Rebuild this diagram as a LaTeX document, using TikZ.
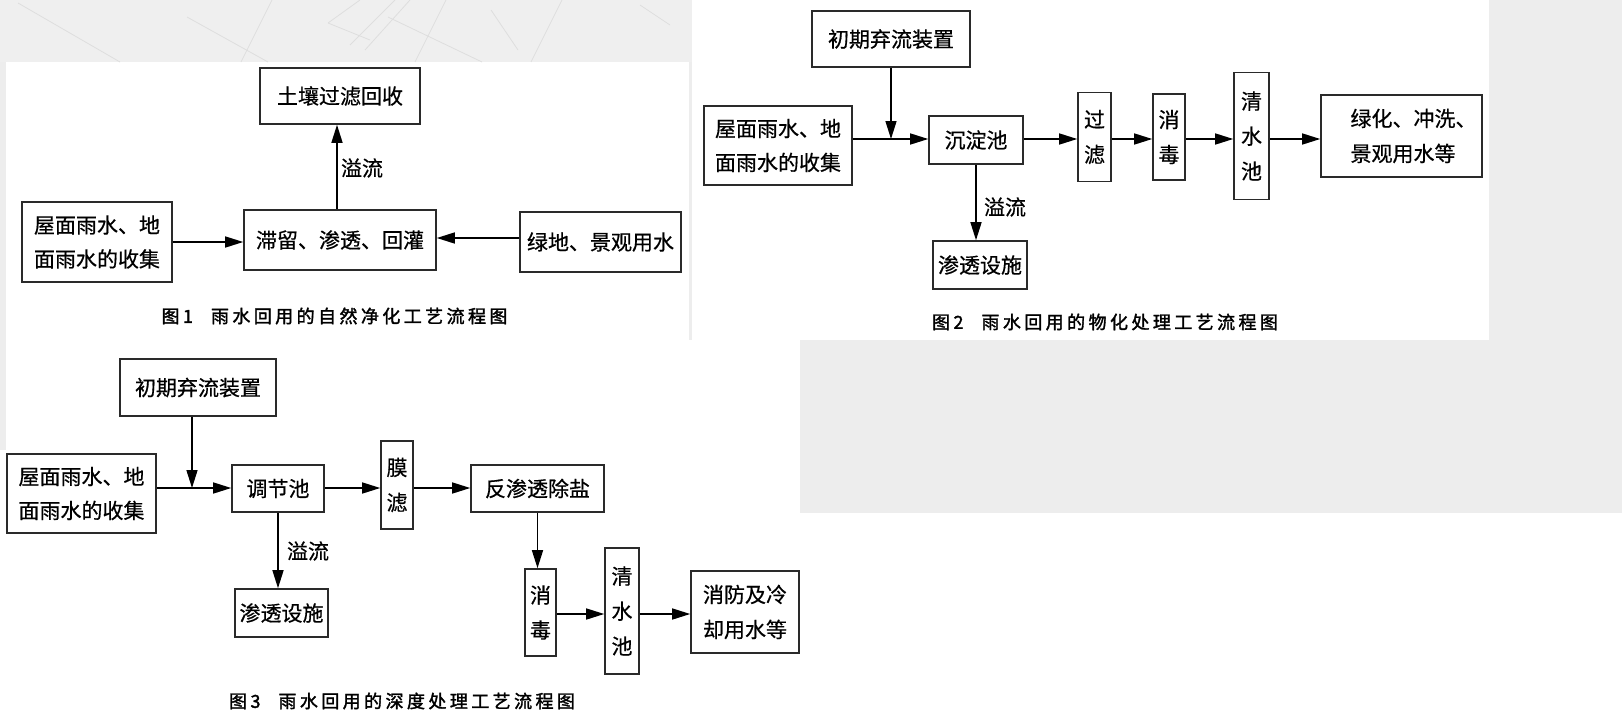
\documentclass[tikz,border=0pt]{standalone}
\usepackage{fontspec}
\newfontfamily\cjk{Noto Sans CJK SC}[FakeBold=0.6]
\newfontfamily\cjkcap{Noto Sans CJK SC}[FakeBold=1.8,LetterSpace=19]
\usetikzlibrary{arrows.meta,calc}
\definecolor{bg}{HTML}{EDEDED}
\definecolor{bgtop}{HTML}{EFEFEF}
\definecolor{faint}{HTML}{DEDEDE}
\definecolor{boxc}{HTML}{2A2A2A}
\tikzset{
  box/.style={draw=boxc, line width=1.6pt, inner sep=0pt, align=center,
    font=\cjk\fontsize{21}{35}\selectfont, text=black},
  arr/.style={draw=black, line width=1.5pt, -{Triangle[length=18pt,width=11pt]}},
  lab/.style={font=\cjk\fontsize{21}{25}\selectfont, inner sep=0pt, text=black},
  capstyle/.style={font=\cjkcap\fontsize{18}{22}\selectfont, inner sep=0pt, text=black},
  bgline/.style={draw=faint, line width=0.8pt},
}
\begin{document}
\begin{tikzpicture}[x=1pt,y=-1pt]
\useasboundingbox (0,0) rectangle (1622,723);
% backgrounds
\fill[white] (0,0) rectangle (1622,723);
\fill[bgtop] (0,0) rectangle (692,62);
\fill[bg] (0,62) rectangle (6,450);
\fill[bg] (689,62) rectangle (692,340);
\fill[bg] (1489,0) rectangle (1622,340);
\fill[bg] (800,340) rectangle (1622,513);
% faint drawing in the top band
\begin{scope}
\clip (0,0) rectangle (692,62);
\draw[bgline] (18,3) -- (120,62);
\draw[bgline] (187,17) -- (268,62);
\draw[bgline] (241,62) -- (272,0);
\draw[bgline] (328,23) -- (360,0);
\draw[bgline] (328,23) -- (370,40);
\draw[bgline] (350,45) -- (395,0);
\draw[bgline] (365,50) -- (410,0);
\draw[bgline] (388,17) -- (482,62);
\draw[bgline] (446,0) -- (415,62);
\draw[bgline] (491,10) -- (518,50);
\draw[bgline] (562,0) -- (531,62);
\draw[bgline] (640,5) -- (670,25);
\draw[bgline] (431,-5) arc[start angle=180,end angle=360,radius=38];
\draw[bgline] (421,-5) arc[start angle=180,end angle=360,radius=48];
\end{scope}

% ---------------- Figure 1 ----------------
\node[box, minimum width=160, minimum height=56] (f1top) at (340,96) {土壤过滤回收};
\node[box, minimum width=192, minimum height=60] (f1mid) at (340,240) {滞留、渗透、回灌};
\node[box, minimum width=150, minimum height=80, font=\cjk\fontsize{21}{34}\selectfont] (f1left) at (97,242) {屋面雨水、地\\面雨水的收集};
\node[box, minimum width=161, minimum height=60] (f1right) at (600.5,242) {绿地、景观用水};
\coordinate (v1) at (337,0);
\coordinate (h1b) at (0,238);
\draw[arr] (f1mid.north -| v1) -- (f1top.south -| v1);
\draw[arr] (f1left.east) -- (f1left.east -| f1mid.west);
\draw[arr] (f1right.west |- h1b) -- (f1mid.east |- h1b);
\node[lab] (l1) at (362,168) {溢流};
\node[capstyle] (c1) at (334.5,316) {图1\hspace{18pt}雨水回用的自然净化工艺流程图};

% ---------------- Figure 2 ----------------
\node[box, minimum width=158, minimum height=56] (f2pre) at (891,39) {初期弃流装置};
\node[box, minimum width=148, minimum height=79, font=\cjk\fontsize{21}{34}\selectfont] (f2in) at (778,145.5) {屋面雨水、地\\面雨水的收集};
\node[box, minimum width=94, minimum height=48] (f2sed) at (976,140) {沉淀池};
\node[box, minimum width=33, minimum height=89] (f2fil) at (1094.5,137) {过\\滤};
\node[box, minimum width=32, minimum height=86] (f2dis) at (1169,137) {消\\毒};
\node[box, minimum width=35, minimum height=127] (f2cw) at (1251.5,136) {清\\水\\池};
\node[box, minimum width=161, minimum height=82, align=left] (f2use) at (1401.5,136) {\hspace*{24pt}绿化、冲洗、\\\hspace*{24pt}景观用水等};
\node[box, minimum width=94, minimum height=48] (f2inf) at (980,265) {渗透设施};
\coordinate (m2) at (0,139);
\draw[arr] (f2pre.south) -- (f2pre.south |- m2);
\draw[arr] (f2in.east |- m2) -- (f2sed.west |- m2);
\draw[arr] (f2sed.east |- m2) -- (f2fil.west |- m2);
\draw[arr] (f2fil.east |- m2) -- (f2dis.west |- m2);
\draw[arr] (f2dis.east |- m2) -- (f2cw.west |- m2);
\draw[arr] (f2cw.east |- m2) -- (f2use.west |- m2);
\draw[arr] (f2sed.south) -- (f2sed.south |- f2inf.north);
\node[lab] (l2) at (1005,207) {溢流};
\node[capstyle] (c2) at (1105,322) {图2\hspace{18pt}雨水回用的物化处理工艺流程图};

% ---------------- Figure 3 ----------------
\node[box, minimum width=156, minimum height=57] (f3pre) at (198,387.5) {初期弃流装置};
\node[box, minimum width=149, minimum height=79, font=\cjk\fontsize{21}{34}\selectfont] (f3in) at (81.5,493.5) {屋面雨水、地\\面雨水的收集};
\node[box, minimum width=92, minimum height=47] (f3adj) at (278,488.5) {调节池};
\node[box, minimum width=32, minimum height=88] (f3mem) at (397,485) {膜\\滤};
\node[box, minimum width=133, minimum height=47] (f3ro) at (537.5,488.5) {反渗透除盐};
\node[box, minimum width=31, minimum height=87] (f3dis) at (540.5,612.5) {消\\毒};
\node[box, minimum width=34, minimum height=126] (f3cw) at (622,611) {清\\水\\池};
\node[box, minimum width=108, minimum height=82] (f3use) at (745,612) {消防及冷\\却用水等};
\node[box, minimum width=93, minimum height=48] (f3inf) at (281.5,613) {渗透设施};
\coordinate (m3) at (0,488);
\coordinate (m3b) at (0,614);
\coordinate (p3) at (192,0);
\draw[arr] (f3pre.south -| p3) -- (p3 |- m3);
\draw[arr] (f3in.east |- m3) -- (f3adj.west |- m3);
\draw[arr] (f3adj.east |- m3) -- (f3mem.west |- m3);
\draw[arr] (f3mem.east |- m3) -- (f3ro.west |- m3);
\draw[arr] (f3adj.south) -- (f3adj.south |- f3inf.north);
\draw[arr] (f3ro.south) -- (f3ro.south |- f3dis.north);
\draw[arr] (f3dis.east |- m3b) -- (f3cw.west |- m3b);
\draw[arr] (f3cw.east |- m3b) -- (f3use.west |- m3b);
\node[lab] (l3) at (308,551) {溢流};
\node[capstyle] (c3) at (402,701) {图3\hspace{18pt}雨水回用的深度处理工艺流程图};
\end{tikzpicture}
\end{document}
